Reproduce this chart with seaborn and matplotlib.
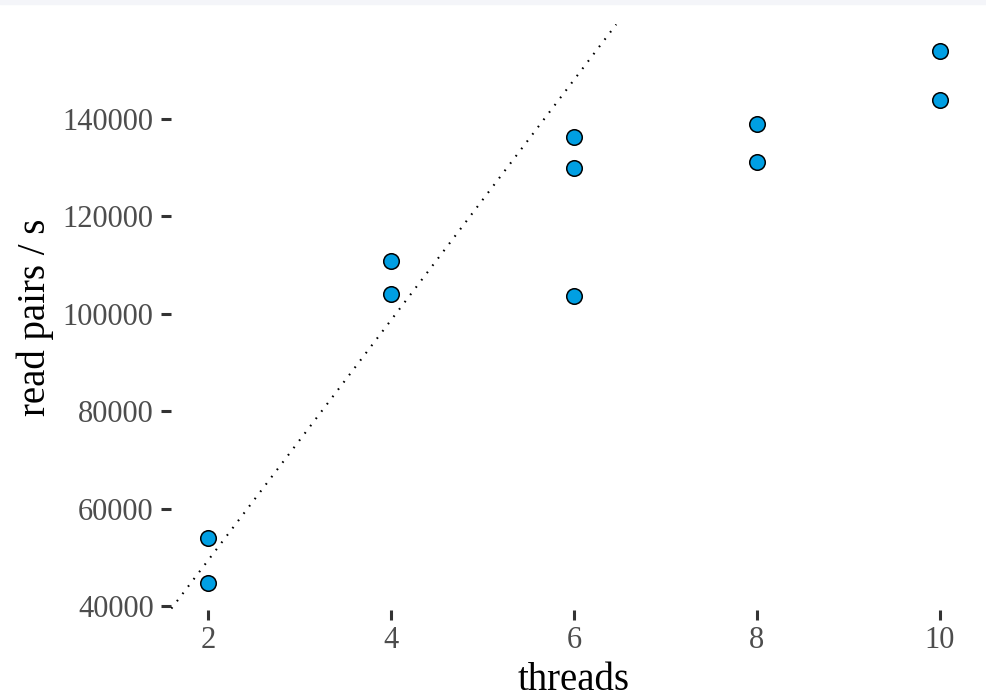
import seaborn as sns
import pandas as pd
import numpy as np
import matplotlib.pyplot as plt
from matplotlib.patches import Rectangle

threads = [2, 2, 4, 4, 6, 6, 6, 8, 8, 10, 10]
pairs_per_s = [53960, 44720, 110840, 104070, 136300, 129940, 103660,
               138970, 131170, 153960, 143900]
x_ticks = [2, 4, 6, 8, 10]
y_ticks = [40000, 60000, 80000, 100000, 120000, 140000]

data = pd.DataFrame({'threads': threads, 'pairs': pairs_per_s})

# ideal linear scaling from the 2-thread runs
base = data[data['threads'] == 2]['pairs'].mean() / 2

sns.set_theme(style='white')
plt.rcParams['font.family'] = ['Liberation Serif', 'DejaVu Serif']

fig = plt.figure(figsize=(9.86, 6.99), dpi=100)
fig.patches.append(Rectangle((0, 0.994), 1, 0.006, transform=fig.transFigure,
                             color='#f4f5f9', zorder=0))
ax = fig.add_axes([0.1738, 0.1279, 0.8166, 0.8372])

sns.scatterplot(x='threads', y='pairs', data=data, ax=ax, s=125,
                color='#009FE3', edgecolor='black', linewidth=1.1, zorder=3)

# set limits like ggplot (5% expansion)
xr = max(threads) - min(threads)
yr = max(pairs_per_s) - min(pairs_per_s)
ax.set_xlim(min(threads) - 0.05 * xr, max(threads) + 0.05 * xr)
ax.set_ylim(min(pairs_per_s) - 0.05 * yr, max(pairs_per_s) + 0.05 * yr)

ax.axline((0, 0), slope=base, color='black', linewidth=1.5,
          linestyle=(0, (0.8, 3.6)), zorder=2)

for sp in ax.spines.values():
    sp.set_visible(False)

ax.set_xticks(x_ticks)
ax.set_yticks(y_ticks)
ax.tick_params(axis='both', which='major', length=7.2, width=2.2,
               color='#333333', labelsize=22, labelcolor='#4d4d4d',
               bottom=True, left=True)
ax.tick_params(axis='y', pad=5.5)
ax.tick_params(axis='x', pad=4.5)

ax.set_xlabel('threads', fontsize=28, color='black', labelpad=5)
ax.set_ylabel('read pairs / s', fontsize=28, color='black', labelpad=6)
ax.grid(False)

plt.savefig('out.png', dpi=100)
